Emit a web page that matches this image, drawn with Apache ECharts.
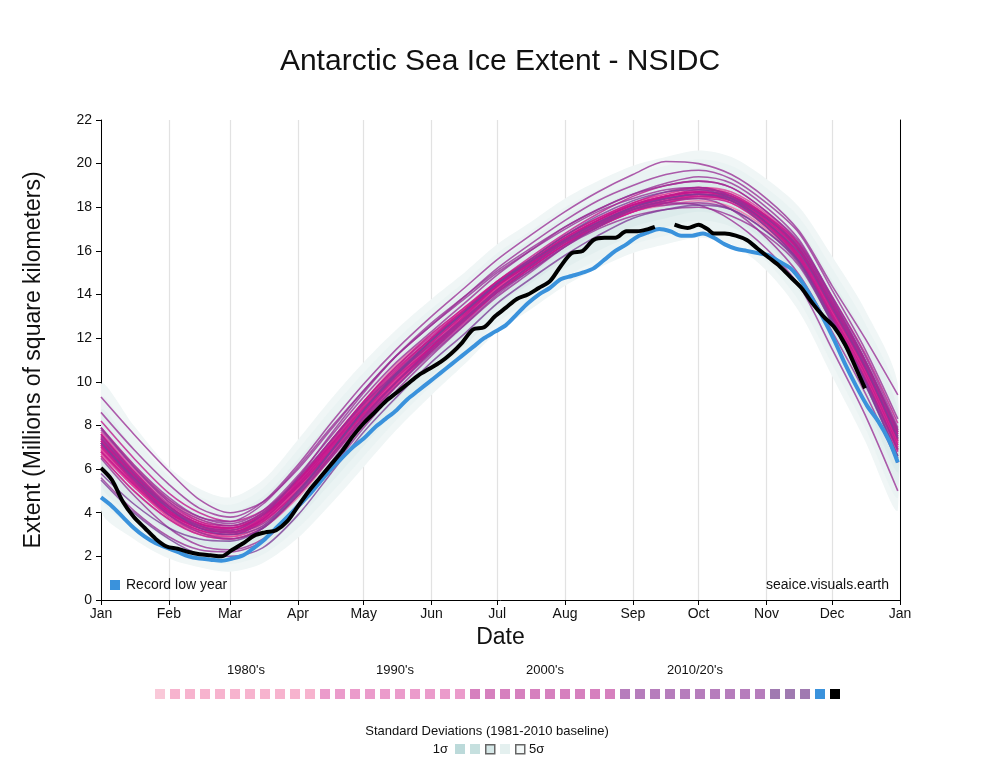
<!DOCTYPE html>
<html><head><meta charset="utf-8">
<script src="https://cdn.jsdelivr.net/npm/echarts@6/dist/echarts.min.js"></script>
<style>html,body{margin:0;padding:0;background:#fff}#c{width:1000px;height:780px}</style>
</head><body><div id="c"></div>
<script>
// ---------- axes ----------
const monthStarts = [1,32,60,91,121,152,182,213,244,274,305,335,366];
const monthLabels = ['Jan','Feb','Mar','Apr','May','Jun','Jul','Aug','Sep','Oct','Nov','Dec','Jan'];
const yMin = 0, yMax = 22, yStep = 2;

// ---------- historical years (sampled at these days of year) ----------
const sampleDays = [1,16,32,46,60,75,91,106,121,136,152,167,182,197,213,228,244,259,274,289,305,320,335,350,365];
const y1979 = [7.3,5.6,4.1,3.3,3.1,3.8,5.3,7.0,8.6,10.3,11.9,13.2,14.6,15.6,16.7,17.5,18.2,18.5,18.8,18.4,17.5,16.0,13.5,10.8,7.6];
const y1980 = [7.9,6.2,4.6,3.7,3.4,4.0,5.6,7.2,9.0,10.6,12.0,13.3,14.6,15.6,16.6,17.3,18.0,18.5,18.8,18.6,17.6,16.2,13.6,10.9,7.7];
const y1981 = [7.6,5.8,4.3,3.5,3.3,3.9,5.2,7.0,8.8,10.2,11.6,12.9,14.2,15.3,16.4,17.3,18.1,18.4,18.6,18.4,17.4,16.0,13.4,10.6,7.4];
const y1982 = [7.2,5.5,4.2,3.5,3.3,3.9,5.4,7.2,8.9,10.5,12.0,13.4,14.6,15.6,16.5,17.3,18.0,18.4,18.7,18.5,17.6,16.1,13.5,10.5,7.2];
const y1983 = [6.9,5.3,4.0,3.4,3.2,3.7,5.0,6.6,8.2,9.8,11.4,12.8,14.2,15.3,16.3,17.2,17.8,18.2,18.5,18.4,17.4,15.9,13.3,10.4,7.0];
const y1984 = [6.6,5.0,3.7,3.0,2.8,3.3,4.7,6.5,8.3,9.9,11.5,12.9,14.3,15.4,16.5,17.2,17.8,18.1,18.3,18.0,17.0,15.4,12.8,10.0,6.8];
const y1985 = [6.8,5.2,3.8,3.1,2.9,3.5,5.0,6.8,8.6,10.3,11.9,13.2,14.6,15.6,16.7,17.5,18.1,18.5,18.8,18.5,17.5,15.9,13.2,10.4,7.1];
const y1986 = [7.0,5.4,3.9,3.1,2.9,3.7,5.4,7.3,9.1,10.8,12.2,13.4,14.6,15.6,16.6,17.4,18.2,18.6,18.9,18.6,17.6,16.0,13.4,10.6,7.3];
const y1987 = [7.3,5.6,4.1,3.4,3.3,3.9,5.3,7.0,8.7,10.2,11.6,12.9,14.3,15.4,16.5,17.3,18.0,18.4,18.7,18.4,17.3,15.8,13.1,10.3,7.0];
const y1988 = [7.0,5.5,4.1,3.4,3.2,3.8,5.2,6.9,8.6,10.1,11.5,12.8,14.1,15.2,16.3,17.1,17.9,18.3,18.5,18.2,17.1,15.5,12.9,10.1,6.9];
const y1989 = [6.8,5.3,3.9,3.2,3.0,3.6,5.0,6.6,8.3,10.0,11.6,12.9,14.3,15.3,16.4,17.3,18.0,18.4,18.6,18.3,17.2,15.6,13.0,10.2,6.9];
const y1990 = [6.7,5.2,3.8,3.1,2.9,3.4,4.8,6.5,8.3,9.9,11.5,12.9,14.3,15.4,16.4,17.2,17.9,18.3,18.6,18.4,17.3,15.7,13.1,10.4,7.2];
const y1991 = [7.1,5.5,4.1,3.4,3.1,3.6,5.1,6.8,8.5,10.0,11.5,12.8,14.2,15.3,16.4,17.2,17.8,18.2,18.5,18.3,17.3,15.8,13.2,10.5,7.2];
const y1992 = [7.2,5.6,4.2,3.4,3.1,3.7,5.2,6.9,8.6,10.2,11.7,13.0,14.3,15.3,16.3,17.1,17.8,18.3,18.6,18.4,17.4,15.8,13.2,10.5,7.3];
const y1993 = [7.4,5.7,4.2,3.4,3.1,3.6,5.0,6.6,8.3,9.9,11.4,12.8,14.2,15.3,16.4,17.2,17.9,18.4,18.7,18.5,17.5,16.0,13.5,10.8,7.6];
const y1994 = [7.7,6.0,4.5,3.6,3.3,3.8,5.2,6.9,8.7,10.3,11.8,13.1,14.5,15.6,16.7,17.5,18.2,18.6,18.9,18.7,17.7,16.2,13.7,11.0,7.7];
const y1995 = [7.5,5.8,4.2,3.4,3.2,3.8,5.3,7.0,8.8,10.4,11.9,13.2,14.5,15.5,16.5,17.3,18.0,18.4,18.6,18.4,17.4,15.9,13.3,10.6,7.4];
const y1996 = [7.2,5.6,4.2,3.5,3.3,3.9,5.4,7.1,8.8,10.3,11.7,13.0,14.3,15.3,16.4,17.2,17.9,18.3,18.6,18.4,17.4,15.8,13.2,10.5,7.3];
const y1997 = [7.1,5.4,4.0,3.3,3.1,3.7,5.2,6.9,8.6,10.1,11.6,12.9,14.2,15.2,16.3,17.1,17.8,18.2,18.5,18.3,17.3,15.7,13.1,10.3,7.0];
const y1998 = [6.9,5.3,3.9,3.2,3.0,3.6,5.1,6.8,8.5,10.1,11.6,13.0,14.4,15.4,16.5,17.3,18.0,18.4,18.6,18.3,17.2,15.6,13.0,10.2,6.9];
const y1999 = [6.8,5.2,3.9,3.2,3.0,3.6,5.1,6.9,8.7,10.3,11.8,13.1,14.4,15.5,16.6,17.4,18.1,18.5,18.7,18.4,17.3,15.7,13.1,10.4,7.1];
const y2000 = [7.0,5.4,4.0,3.3,3.1,3.7,5.2,6.9,8.6,10.2,11.6,12.9,14.2,15.3,16.4,17.2,17.9,18.3,18.5,18.3,17.2,15.6,13.0,10.2,6.9];
const y2001 = [6.8,5.3,3.9,3.2,3.0,3.6,5.0,6.7,8.4,10.0,11.5,12.8,14.1,15.2,16.3,17.1,17.8,18.2,18.4,18.2,17.1,15.5,12.9,10.1,6.8];
const y2002 = [6.6,5.0,3.7,3.0,2.8,3.3,4.8,6.6,8.4,10.0,11.6,13.0,14.4,15.5,16.6,17.4,18.1,18.5,18.7,18.4,17.3,15.7,13.1,10.4,7.1];
const y2003 = [7.1,5.5,4.1,3.4,3.2,3.9,5.5,7.3,9.1,10.7,12.1,13.3,14.5,15.5,16.5,17.3,18.0,18.4,18.6,18.3,17.3,15.8,13.3,10.6,7.3];
const y2004 = [7.3,5.7,4.3,3.5,3.3,3.9,5.3,7.0,8.7,10.3,11.8,13.1,14.4,15.4,16.5,17.4,18.1,18.5,18.7,18.5,17.5,16.0,13.4,10.7,7.4];
const y2005 = [7.4,5.7,4.1,3.3,3.1,3.8,5.4,7.2,9.0,10.6,12.0,13.2,14.4,15.4,16.5,17.3,18.0,18.4,18.6,18.4,17.5,16.1,13.6,10.9,7.6];
const y2006 = [7.6,5.9,4.3,3.5,3.3,3.9,5.2,6.8,8.5,10.0,11.4,12.7,14.1,15.2,16.3,17.2,18.0,18.5,18.8,18.6,17.6,16.1,13.5,10.7,7.5];
const y2007 = [7.3,5.6,4.0,3.3,3.1,3.7,5.3,7.1,8.9,10.5,12.0,13.3,14.6,15.7,16.8,17.7,18.5,19.0,19.2,18.9,17.8,16.3,13.7,11.0,7.8];
const y2008 = [8.2,6.5,4.9,4.0,3.6,4.1,5.5,7.1,8.8,10.4,11.9,13.2,14.5,15.5,16.6,17.4,18.1,18.5,18.7,18.5,17.6,16.3,13.9,11.3,8.1];
const y2009 = [7.6,5.9,4.4,3.6,3.4,4.0,5.5,7.3,9.1,10.7,12.2,13.4,14.6,15.6,16.7,17.5,18.2,18.7,18.9,18.5,17.4,16.0,13.5,10.9,7.7];
const y2010 = [7.8,6.1,4.6,3.8,3.5,4.1,5.7,7.5,9.3,10.9,12.3,13.6,14.9,16.0,17.1,17.9,18.6,19.0,19.2,18.9,17.8,16.4,13.9,11.2,7.9];
const y2011 = [7.4,5.8,4.3,3.4,3.1,3.5,4.9,6.6,8.4,10.0,11.5,12.9,14.2,15.3,16.4,17.2,18.0,18.4,18.6,18.4,17.5,16.1,13.6,10.8,7.5];
const y2012 = [7.5,5.8,4.2,3.4,3.2,3.9,5.6,7.6,9.5,11.2,12.7,13.9,15.1,16.1,17.1,17.9,18.6,19.1,19.4,19.1,18.0,16.5,13.8,11.0,7.8];
const y2013 = [7.9,6.2,4.7,3.8,3.6,4.4,6.1,7.9,9.6,11.2,12.6,13.9,15.2,16.3,17.4,18.3,19.0,19.5,19.7,19.3,18.2,16.8,14.2,11.5,8.3];
const y2014 = [8.6,6.9,5.3,4.2,3.8,4.5,6.2,8.1,9.9,11.5,13.0,14.3,15.6,16.7,17.8,18.7,19.5,20.1,20.0,19.5,18.4,16.9,14.4,12.0,9.4];
const y2015 = [9.3,7.6,5.9,4.6,4.0,4.5,6.0,7.8,9.6,11.2,12.6,13.8,15.0,16.0,17.0,17.8,18.4,18.8,18.9,18.5,17.5,16.2,13.8,11.0,7.7];
const y2016 = [7.9,6.1,4.5,3.7,3.4,4.0,5.6,7.3,9.0,10.4,11.7,12.9,14.1,15.1,16.2,17.1,17.9,18.2,18.1,17.4,16.1,14.4,11.5,8.5,5.0];
const y2017 = [5.6,4.1,2.9,2.3,2.2,2.7,4.2,6.0,7.9,9.6,11.2,12.6,14.0,15.1,16.2,17.0,17.6,17.9,18.0,17.6,16.7,15.3,12.7,9.9,6.6];
const y2018 = [6.5,4.8,3.3,2.5,2.3,2.8,4.4,6.3,8.2,9.8,11.4,12.8,14.2,15.3,16.4,17.2,17.9,18.1,18.2,17.9,16.9,15.5,12.9,10.1,6.9];
const y2019 = [7.2,5.5,3.9,3.1,2.8,3.3,4.8,6.5,8.3,9.8,11.3,12.6,13.9,15.0,16.2,17.1,17.9,18.3,18.4,17.9,16.6,14.9,12.3,9.5,6.3];
const y2020 = [5.8,4.4,3.3,2.8,2.7,3.3,4.9,6.8,8.7,10.3,11.9,13.2,14.5,15.6,16.7,17.6,18.3,18.7,18.8,18.4,17.3,15.9,13.4,10.7,7.4];
const y2021 = [7.2,5.6,4.2,3.3,3.0,3.4,5.0,6.8,8.7,10.4,11.9,13.2,14.5,15.5,16.5,17.3,18.0,18.4,18.6,18.3,17.1,15.5,12.8,10.0,6.6];
const y2022 = [5.5,4.0,2.8,2.1,2.0,2.4,3.9,5.8,7.7,9.3,10.9,12.2,13.6,14.7,15.8,16.7,17.5,17.9,18.1,17.9,16.9,15.4,12.7,9.9,6.5];

const historyYears = [
  [1979,y1979],[1980,y1980],[1981,y1981],[1982,y1982],[1983,y1983],[1984,y1984],[1985,y1985],[1986,y1986],[1987,y1987],[1988,y1988],[1989,y1989],
  [1990,y1990],[1991,y1991],[1992,y1992],[1993,y1993],[1994,y1994],[1995,y1995],[1996,y1996],[1997,y1997],[1998,y1998],[1999,y1999],
  [2000,y2000],[2001,y2001],[2002,y2002],[2003,y2003],[2004,y2004],[2005,y2005],[2006,y2006],[2007,y2007],[2008,y2008],[2009,y2009],
  [2010,y2010],[2011,y2011],[2012,y2012],[2013,y2013],[2014,y2014],[2015,y2015],[2016,y2016],[2017,y2017],[2018,y2018],[2019,y2019],
  [2020,y2020],[2021,y2021],[2022,y2022]
];

// ---------- record low year (2023) ----------
const recordDays = [1,6,11,16,21,26,31,36,41,46,51,56,61,66,71,76,81,86,91,96,101,106,111,116,121,126,131,136,141,146,151,156,161,166,171,176,181,186,191,196,201,206,211,216,221,226,231,236,241,246,251,256,261,266,271,276,281,286,291,296,301,306,311,316,321,326,331,336,341,346,351,356,361,365];
const recordVals = [4.7,4.3,3.8,3.3,2.9,2.6,2.4,2.2,2.0,1.9,1.85,1.8,1.9,2.05,2.4,2.8,3.3,3.8,4.3,4.8,5.4,6.0,6.5,7.0,7.4,7.9,8.3,8.7,9.2,9.6,10.0,10.4,10.8,11.2,11.6,12.0,12.3,12.6,13.1,13.6,14.0,14.3,14.7,14.85,15.0,15.2,15.6,16.0,16.3,16.65,16.85,17.0,16.9,16.7,16.7,16.8,16.6,16.3,16.1,16.0,15.9,15.8,15.5,15.2,14.6,13.8,12.9,11.9,10.8,9.8,8.9,8.2,7.3,6.3];

// ---------- current year (2024) ----------
const currentDays = [1,6,11,16,21,26,31,36,41,46,51,56,61,66,71,76,81,86,91,96,101,106,111,116,121,126,131,136,141,146,151,156,161,166,171,176,181,186,191,196,201,206,211,216,221,226,231,236,241,246,251,254,258,263,266,269,274,278,281,286,291,296,301,306,311,316,321,326,331,336,341,346,350];
const currentVals = [6.05,5.5,4.5,3.8,3.3,2.8,2.45,2.35,2.2,2.1,2.05,2.0,2.3,2.6,2.95,3.1,3.2,3.6,4.3,5.0,5.6,6.2,6.8,7.5,8.1,8.6,9.1,9.5,9.9,10.3,10.6,10.9,11.3,11.8,12.4,12.5,13.0,13.4,13.8,14.0,14.3,14.6,15.3,15.9,16.0,16.5,16.6,16.6,16.9,16.9,17.0,17.1,null,17.2,17.1,17.05,17.2,17.0,16.8,16.8,16.7,16.5,16.1,15.7,15.3,14.8,14.3,13.6,13.0,12.5,11.7,10.6,9.7];

// ---------- 1981-2010 baseline ----------
const baselineMean = [7.0,5.4,4.0,3.3,3.0,3.6,5.1,6.8,8.5,10.1,11.6,12.9,14.3,15.3,16.4,17.2,17.9,18.3,18.6,18.3,17.2,15.6,13.0,10.3,7.0];
const baselineSd   = [0.58,0.52,0.42,0.36,0.34,0.38,0.45,0.48,0.48,0.46,0.44,0.42,0.40,0.40,0.40,0.40,0.40,0.40,0.40,0.40,0.42,0.48,0.55,0.60,0.58];
const sigmaLevels = [5,4,3,2,1];

// ---------- colours ----------
const bandColors = {5:'#f0f6f6',4:'#eaf3f3',3:'#e3efef',2:'#dcebeb',1:'#d6e7e7'};
const sigmaLegendColors = ['#bcdada','#c6e0df','#d6e8e8','#e4f0ef','#f3f8f8'];
function lineColor(y){
  if (y===1979) return '#f59bbb';
  if (y<1990) return '#f06ca4';
  if (y<2000) return '#de3b98';
  if (y<2010) return '#c2168d';
  if (y<2020) return '#9a3096';
  return '#7e3c98';
}
function legendColor(y){
  if (y===1979) return '#f9c8d8';
  if (y<1990) return '#f7b3ce';
  if (y<2000) return '#eb9bcb';
  if (y<2010) return '#d680be';
  if (y<2020) return '#b67dbc';
  return '#a07ab1';
}
const recordColor = '#3a92dc';
const currentColor = '#000000';

// ---------- series ----------
const series = [];
series.push({type:'custom',silent:true,data:[[1,0]],
  renderItem:(params, api)=>{
    const tl = api.coord([1, yMax]);
    const br = api.coord([366, yMin]);
    const children = sigmaLevels.map(k=>{
      const up = sampleDays.map((d,i)=>api.coord([d, baselineMean[i]+k*baselineSd[i]]));
      const lo = sampleDays.map((d,i)=>api.coord([d, baselineMean[i]-k*baselineSd[i]])).reverse();
      return {type:'polygon',shape:{points:up.concat(lo),smooth:0.3,smoothConstraint:[[tl[0],tl[1]],[br[0],br[1]]]},style:{fill:bandColors[k]}};
    });
    return {type:'group',children};
  }});
historyYears.forEach(([yr,vals])=>{
  series.push({type:'line',name:String(yr),symbol:'none',smooth:0.3,silent:true,
    lineStyle:{color:lineColor(yr),width:1.6,opacity:0.78},
    data: sampleDays.map((d,i)=>[d, vals[i]])});
});
series.push({type:'line',name:'2023',symbol:'none',smooth:0.3,silent:true,
  lineStyle:{color:recordColor,width:4},
  data: recordDays.map((d,i)=>[d, recordVals[i]])});
series.push({type:'line',name:'2024',symbol:'none',smooth:0.3,silent:true,connectNulls:false,
  lineStyle:{color:currentColor,width:4},
  data: currentDays.map((d,i)=>[d, currentVals[i]])});

// ---------- graphic (legends / labels) ----------
const FONT13 = '13px "Liberation Sans", Arial, sans-serif';
const FONT14 = '14px "Liberation Sans", Arial, sans-serif';
const legendYears = historyYears.map(h=>h[0]);
const graphic = [];
const sqX0 = 155, sqStep = 15, sqY = 689, sqSize = 10;
legendYears.forEach((y,i)=>{
  graphic.push({type:'rect',left:sqX0+i*sqStep,top:sqY,shape:{width:sqSize,height:sqSize},style:{fill:legendColor(y)}});
});
graphic.push({type:'rect',left:sqX0+legendYears.length*sqStep,top:sqY,shape:{width:sqSize,height:sqSize},style:{fill:recordColor}});
graphic.push({type:'rect',left:sqX0+(legendYears.length+1)*sqStep,top:sqY,shape:{width:sqSize,height:sqSize},style:{fill:currentColor}});
const decadeLabels = ["1980's","1990's","2000's","2010/20's"];
const decadeCenters = [246,395,545,695];
decadeLabels.forEach((t,i)=>{
  graphic.push({type:'text',x:decadeCenters[i],y:670,style:{text:t,font:FONT13,fill:'#111',align:'center',verticalAlign:'middle'}});
});
graphic.push({type:'text',x:487,y:731,style:{text:'Standard Deviations (1981-2010 baseline)',font:FONT13,fill:'#111',align:'center',verticalAlign:'middle'}});
graphic.push({type:'text',x:448,y:749,style:{text:'1σ',font:FONT13,fill:'#111',align:'right',verticalAlign:'middle'}});
graphic.push({type:'text',x:529,y:749,style:{text:'5σ',font:FONT13,fill:'#111',align:'left',verticalAlign:'middle'}});
sigmaLegendColors.forEach((c,i)=>{
  const bordered = (i===2||i===4);
  graphic.push({type:'rect',left:455+i*15,top:744,shape:{width:bordered?9:10,height:bordered?9:10},
    style:{fill:c,stroke:bordered?'#666':null,lineWidth:bordered?1.5:0}});
});
// in-plot notes
graphic.push({type:'rect',z:100,left:110,top:580,shape:{width:10,height:10},style:{fill:recordColor}});
graphic.push({type:'text',z:100,x:126,y:585,style:{text:'Record low year',font:FONT14,fill:'#111',verticalAlign:'middle'}});
graphic.push({type:'text',z:100,x:889,y:585,style:{text:'seaice.visuals.earth',font:FONT14,fill:'#111',align:'right',verticalAlign:'middle'}});

const chart = echarts.init(document.getElementById('c'), null, {renderer:'canvas'});
chart.setOption({
  animation:false,
  backgroundColor:'#fff',
  textStyle:{fontFamily:'"Liberation Sans", Arial, sans-serif'},
  title:{text:'Antarctic Sea Ice Extent - NSIDC',left:'center',top:42,
    textStyle:{fontSize:30,fontWeight:'normal',color:'#111',fontFamily:'"Liberation Sans", Arial, sans-serif'}},
  grid:{left:101,right:100,top:120,bottom:180,containLabel:false},
  xAxis:{type:'value',min:1,max:366,
    name:'Date',nameLocation:'middle',nameGap:24,
    nameTextStyle:{fontSize:23,color:'#111'},
    axisLine:{show:true,lineStyle:{color:'#000',width:1}},
    axisTick:{show:true,length:5,lineStyle:{color:'#000'},customValues:monthStarts},
    axisLabel:{fontSize:14,color:'#111',margin:7,customValues:monthStarts,
      formatter:v=>monthLabels[monthStarts.indexOf(v)]},
    splitLine:{show:true,lineStyle:{color:'#e2e2e2',width:1.2}}
  },
  yAxis:[{type:'value',min:yMin,max:yMax,interval:yStep,
    name:'Extent (Millions of square kilometers)',nameLocation:'middle',nameGap:56,
    nameTextStyle:{fontSize:23,color:'#111'},
    axisLine:{show:true,lineStyle:{color:'#000',width:1}},
    axisTick:{show:true,length:5,lineStyle:{color:'#000'}},
    axisLabel:{fontSize:14,color:'#111',margin:9},
    splitLine:{show:false}
  },{type:'value',min:yMin,max:yMax,interval:yStep,position:'right',
    axisLine:{show:true,lineStyle:{color:'#000',width:1}},
    axisTick:{show:false},axisLabel:{show:false},splitLine:{show:false}
  }],
  series: series,
  graphic: graphic
});
</script></body></html>
